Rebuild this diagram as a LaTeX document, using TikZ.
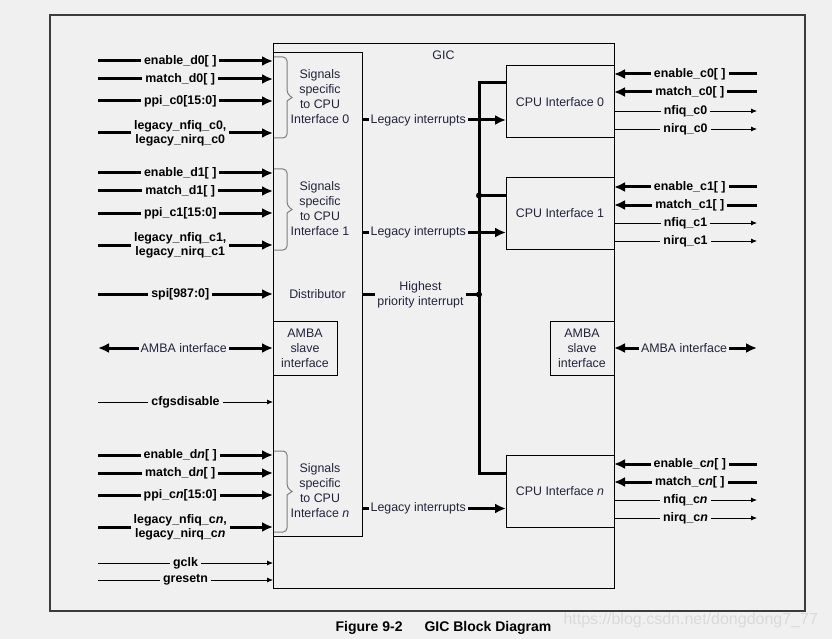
\documentclass[tikz,border=0pt]{standalone}
\usepackage{fontspec}
\setmainfont{Liberation Sans}
\usetikzlibrary{arrows.meta}

\definecolor{paper}{RGB}{240,240,240}
\definecolor{ink}{RGB}{35,35,60}
\definecolor{bracegray}{RGB}{125,125,125}
\definecolor{framegray}{RGB}{60,60,60}
\definecolor{markgray}{RGB}{218,218,218}

\tikzset{
  box/.style = {draw, fill=paper, line width=1pt, inner sep=0pt, outer sep=0pt,
                text=ink, align=center, font=\fontsize{12.4}{15}\selectfont},
  note/.style = {fill=paper, inner sep=2pt, text=ink, align=center,
                 font=\fontsize{12.4}{15}\selectfont},
  sig/.style = {fill=paper, inner sep=3pt, align=center, pos=0.47,
                font=\fontsize{12.4}{14}\selectfont\bfseries},
  fat/.style = {line width=3pt, -{Latex[length=11pt,width=10pt]}},
  fatboth/.style = {line width=3pt, {Latex[length=11pt,width=10pt]}-{Latex[length=11pt,width=10pt]}},
  slim/.style = {line width=0.8pt, -{Latex[length=6pt,width=5pt]}},
  slimback/.style = {line width=0.8pt, {Latex[length=6pt,width=5pt]}-},
  bus/.style = {line width=3pt},
  curly/.style = {bracegray, line width=1pt}
}

\begin{document}
\begin{tikzpicture}[x=1pt, y=-1pt]
        \fill[paper] (0,0) rectangle (832,639);
        \useasboundingbox (0,0) rectangle (832,639);
        \draw[framegray, line width=1.5pt] (50,15) rectangle (805,611);

        % blocks
        \node[box, minimum width=341pt, minimum height=544pt] (gic) at (443.5,316) {};
        \node[note] (gictitle) at (443.5,55) {GIC};
        \node[box, minimum width=89pt, minimum height=483pt] (dist) at (317.5,294.5) {Distributor};
        \node[box, minimum width=64pt, minimum height=54pt] (ambad) at (305,348) {AMBA\\slave\\interface};
        \node[box, minimum width=108pt, minimum height=72pt] (cpu0) at (560,102) {CPU Interface 0};
        \node[box, minimum width=108pt, minimum height=72pt] (cpu1) at (560,213.5) {CPU Interface 1};
        \node[box, minimum width=108pt, minimum height=72pt] (cpun) at (560,491.5) {CPU Interface \textit{n}};
        \node[box, minimum width=64pt, minimum height=54pt] (ambac) at (582,348) {AMBA\\slave\\interface};

        \node[note, fill=none] (sp0) at (320,97) {Signals\\specific\\to CPU\\Interface 0};
        \node[note, fill=none] (sp1) at (320,209) {Signals\\specific\\to CPU\\Interface 1};
        \node[note, fill=none] (spn) at (320,491) {Signals\\specific\\to CPU\\Interface \textit{n}};

        % braces
        \draw[curly] (274,57) [rounded corners=4pt] -- (287,57) -- (287,94) [sharp corners] -- (292,97.5) -- (287,101) [rounded corners=4pt] -- (287,138) -- (274,138);
        \draw[curly] (274,169) [rounded corners=4pt] -- (287,169) -- (287,206) [sharp corners] -- (292,209.5) -- (287,213) [rounded corners=4pt] -- (287,250) -- (274,250);
        \draw[curly] (274,451) [rounded corners=4pt] -- (287,451) -- (287,488) [sharp corners] -- (292,491.5) -- (287,495) [rounded corners=4pt] -- (287,532) -- (274,532);

        % interrupt bus
        \coordinate (bus0) at ([yshift=-17pt]cpu0.north west);
        \coordinate (bus1) at ([yshift=-18pt]cpu1.north west);
        \coordinate (busn) at ([yshift=-18pt]cpun.north west);
        \draw[bus] (bus0) -- ++(-27,0) coordinate (bustop) |- (busn);
        \draw[bus] (bustop |- bus1) -- (bus1);
        \fill (bustop |- bus1) circle (3pt);
        \draw[bus] (dist.east) -- node[note] {Highest\\priority interrupt} (bustop |- dist.east);
        \fill (bustop |- dist.east) circle (3pt);

        \coordinate (in0) at ([yshift=18pt]cpu0.south west);
        \coordinate (in1) at ([yshift=17pt]cpu1.south west);
        \coordinate (inn) at ([yshift=19pt]cpun.south west);
        \draw[fat] (dist.east |- in0) -- node[note, pos=0.39] {Legacy interrupts} (in0);
        \draw[fat] (dist.east |- in1) -- node[note, pos=0.39] {Legacy interrupts} (in1);
        \draw[fat] (dist.east |- inn) -- node[note, pos=0.39] {Legacy interrupts} (inn);

        % left side signals
        \coordinate (ena0) at (98,61);
        \coordinate (mat0) at (98,79);
        \coordinate (ppi0) at (98,101);
        \coordinate (leg0) at (98,133);
        \draw[fat] (ena0) -- node[sig] {enable\_d0[ ]} (ena0 -| gic.west);
        \draw[fat] (mat0) -- node[sig] {match\_d0[ ]} (mat0 -| gic.west);
        \draw[fat] (ppi0) -- node[sig] {ppi\_c0[15:0]} (ppi0 -| gic.west);
        \draw[fat] (leg0) -- node[sig] {legacy\_nfiq\_c0,\\legacy\_nirq\_c0} (leg0 -| gic.west);

        \coordinate (ena1) at (98,173);
        \coordinate (mat1) at (98,191);
        \coordinate (ppi1) at (98,213);
        \coordinate (leg1) at (98,245);
        \draw[fat] (ena1) -- node[sig] {enable\_d1[ ]} (ena1 -| gic.west);
        \draw[fat] (mat1) -- node[sig] {match\_d1[ ]} (mat1 -| gic.west);
        \draw[fat] (ppi1) -- node[sig] {ppi\_c1[15:0]} (ppi1 -| gic.west);
        \draw[fat] (leg1) -- node[sig] {legacy\_nfiq\_c1,\\legacy\_nirq\_c1} (leg1 -| gic.west);

        \coordinate (spi) at (98,294);
        \coordinate (ambal) at (98,348);
        \coordinate (cfg) at (98,402);
        \draw[fat] (spi) -- node[sig] {spi[987:0]} (spi -| gic.west);
        \draw[fatboth] (ambal) -- node[note, pos=0.49] {AMBA interface} (ambad.west);
        \draw[slim] (cfg) -- node[sig, pos=0.5] {cfgsdisable} (cfg -| gic.west);

        \coordinate (enan) at (98,455);
        \coordinate (matn) at (98,473);
        \coordinate (ppin) at (98,495);
        \coordinate (legn) at (98,527);
        \draw[fat] (enan) -- node[sig] {enable\_d\textit{n}[ ]} (enan -| gic.west);
        \draw[fat] (matn) -- node[sig] {match\_d\textit{n}[ ]} (matn -| gic.west);
        \draw[fat] (ppin) -- node[sig] {ppi\_c\textit{n}[15:0]} (ppin -| gic.west);
        \draw[fat] (legn) -- node[sig] {legacy\_nfiq\_c\textit{n},\\legacy\_nirq\_c\textit{n}} (legn -| gic.west);

        \coordinate (gclk) at (98,563);
        \coordinate (grst) at (98,580);
        \draw[slim] (gclk) -- node[sig, pos=0.5] {gclk} (gclk -| gic.west);
        \draw[slim] (grst) -- node[sig, pos=0.5] {gresetn} (grst -| gic.west);

        % right side signals
        \coordinate (enc0) at (757,74);
        \coordinate (mac0) at (757,92);
        \coordinate (fiq0) at (757,111);
        \coordinate (irq0) at (757,129);
        \draw[fat] (enc0) -- node[sig] {enable\_c0[ ]} (enc0 -| gic.east);
        \draw[fat] (mac0) -- node[sig] {match\_c0[ ]} (mac0 -| gic.east);
        \draw[slimback] (fiq0) -- node[sig, pos=0.5] {nfiq\_c0} (fiq0 -| gic.east);
        \draw[slimback] (irq0) -- node[sig, pos=0.5] {nirq\_c0} (irq0 -| gic.east);

        \coordinate (enc1) at (757,187);
        \coordinate (mac1) at (757,205);
        \coordinate (fiq1) at (757,223);
        \coordinate (irq1) at (757,241);
        \draw[fat] (enc1) -- node[sig] {enable\_c1[ ]} (enc1 -| gic.east);
        \draw[fat] (mac1) -- node[sig] {match\_c1[ ]} (mac1 -| gic.east);
        \draw[slimback] (fiq1) -- node[sig, pos=0.5] {nfiq\_c1} (fiq1 -| gic.east);
        \draw[slimback] (irq1) -- node[sig, pos=0.5] {nirq\_c1} (irq1 -| gic.east);

        \coordinate (ambar) at (757,348);
        \draw[fatboth] (ambac.east) -- node[note, pos=0.49] {AMBA interface} (ambar);

        \coordinate (encn) at (757,464);
        \coordinate (macn) at (757,482);
        \coordinate (fiqn) at (757,500);
        \coordinate (irqn) at (757,518);
        \draw[fat] (encn) -- node[sig] {enable\_c\textit{n}[ ]} (encn -| gic.east);
        \draw[fat] (macn) -- node[sig] {match\_c\textit{n}[ ]} (macn -| gic.east);
        \draw[slimback] (fiqn) -- node[sig, pos=0.5] {nfiq\_c\textit{n}} (fiqn -| gic.east);
        \draw[slimback] (irqn) -- node[sig, pos=0.5] {nirq\_c\textit{n}} (irqn -| gic.east);

        % caption
        \node[font=\fontsize{14}{16}\selectfont\bfseries] (caption) at (443.5,628) {Figure 9-2\hspace{22pt}GIC Block Diagram};
        \node[anchor=west, markgray, font=\fontsize{16}{18}\selectfont] (mark) at (560,620) {https://blog.csdn.net/dongdong7\_77};
    \end{tikzpicture}
\end{document}
